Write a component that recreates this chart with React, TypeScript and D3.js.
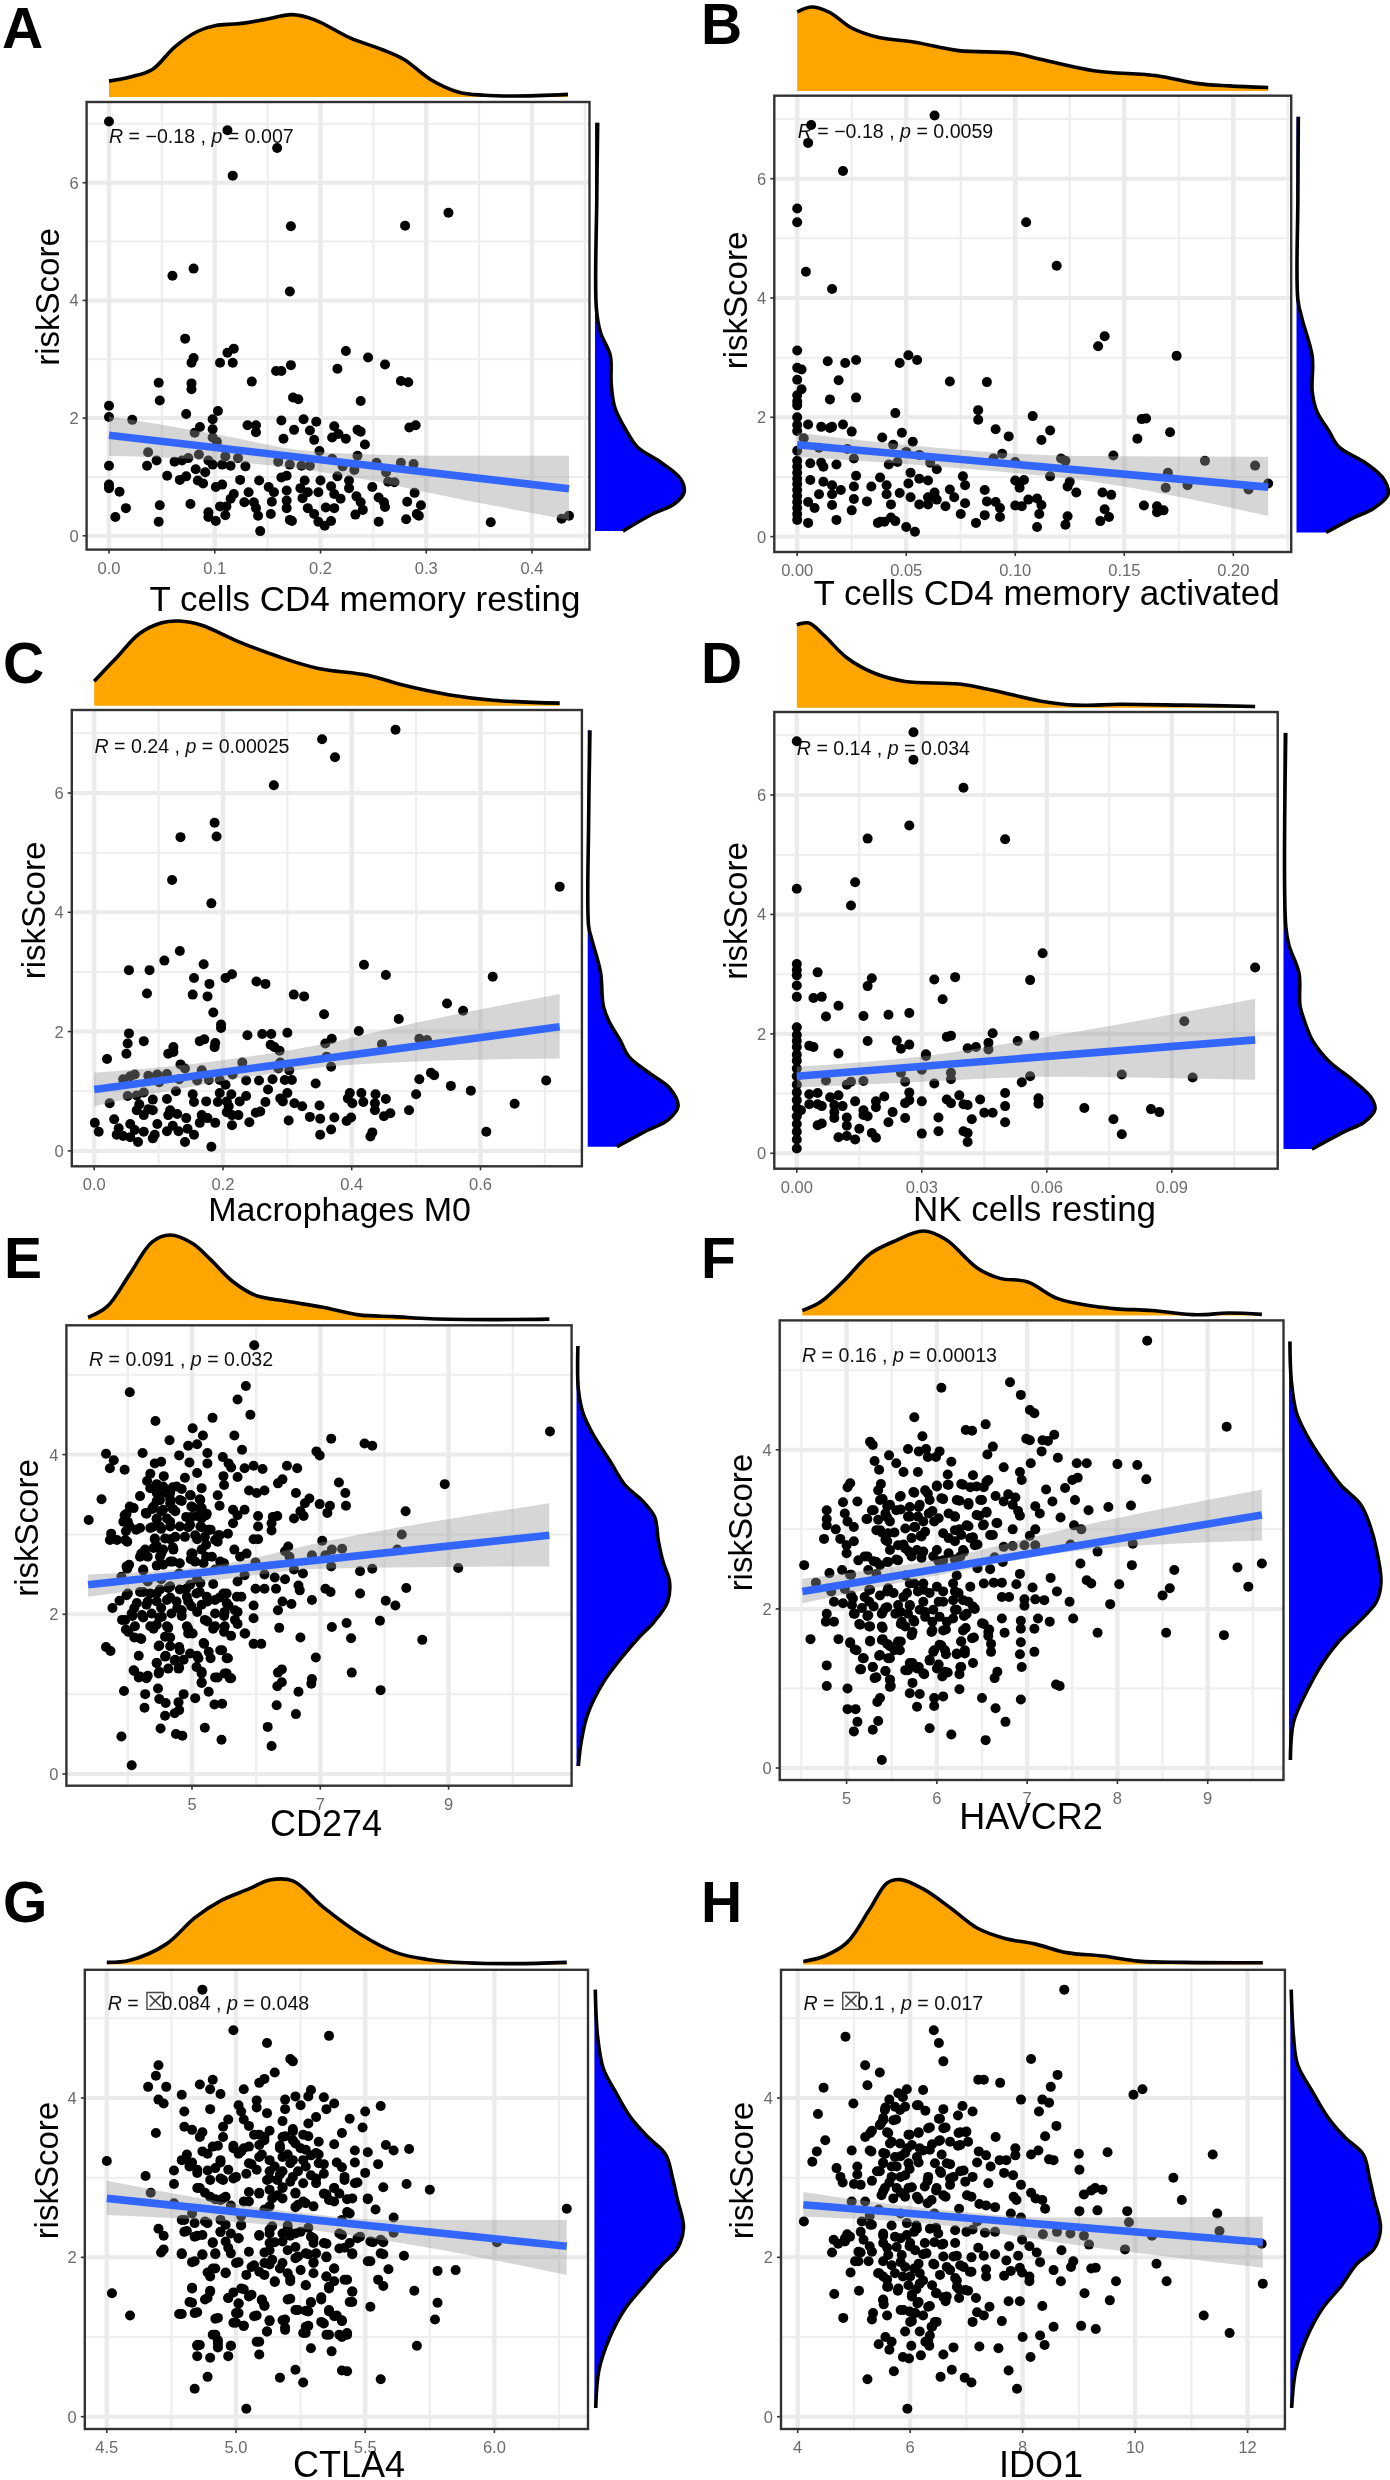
import React from "react";
import * as d3 from "d3";

type P = number[];

const aPoints: P[] = [[0,7.04],[.112,6.89],[.159,6.59],[.117,6.12],[.321,5.49],[.172,5.26],[.28,5.27],[.08,4.54],[.06,4.42],[.171,4.15],[.072,3.35],[.118,3.18],[.112,3.11],[.224,3.14],[.08,3.02],[.078,2.94],[.105,2.94],[.117,2.94],[.245,3.03],[.261,2.91],[.172,2.9],[.216,2.84],[.158,2.8],[.163,2.8],[.135,2.62],[.047,2.6],[.078,2.59],[.078,2.49],[.276,2.63],[.283,2.61],[.174,2.35],[.179,2.32],[.048,2.3],[.238,2.29],[0,2.21],[.103,2.12],[.073,2.07],[0,2.02],[.022,1.97],[.098,1.98],[.163,1.96],[.184,1.98],[.196,1.94],[.086,1.85],[.098,1.81],[.131,1.88],[.139,1.88],[.213,1.86],[.29,1.88],[.284,1.84],[.19,1.79],[.175,1.8],[.235,1.8],[.238,1.77],[.081,1.75],[.139,1.76],[.217,1.73],[.165,1.65],[.194,1.63],[.211,1.67],[.224,1.65],[.098,1.67],[.102,1.6],[.242,1.55],[.199,1.44],[.037,1.42],[.085,1.38],[.235,1.36],[.11,1.35],[0,1.19],[.036,1.19],[.045,1.28],[.062,1.26],[.069,1.28],[.075,1.32],[.094,1.28],[.098,1.21],[.107,1.21],[.115,1.19],[.122,1.32],[.129,1.18],[.16,1.26],[.171,1.21],[.182,1.19],[.19,1.19],[.211,1.31],[.221,1.18],[.232,1.12],[.253,1.24],[.262,1.08],[.276,1.24],[.288,1.22],[.055,1.02],[.067,.95],[.073,1.01],[.082,1.13],[.091,1.08],[.084,.94],[.089,.89],[.101,.83],[.107,.87],[.124,.95],[.142,.94],[.163,.99],[.168,1.02],[.151,.83],[.185,.94],[.2,.94],[.216,1.01],[.227,.94],[.249,.83],[.264,.92],[.27,.91],[.21,.84],[.227,.81],[0,.87],[0,.81],[.01,.75],[.118,.71],[.132,.74],[.156,.74],[.168,.77],[.181,.81],[.188,.74],[.198,.74],[.213,.71],[.234,.67],[.289,.73],[.255,.65],[.115,.63],[.137,.57],[.128,.57],[.154,.58],[.168,.6],[.183,.64],[.219,.63],[.238,.57],[.26,.57],[.282,.58],[.077,.54],[.048,.52],[.016,.47],[.111,.5],[.105,.5],[.139,.47],[.168,.47],[.188,.47],[.205,.48],[.213,.47],[.24,.44],[.261,.49],[.295,.52],[.094,.4],[.006,.32],[.094,.32],[.11,.35],[.141,.34],[.153,.37],[.194,.37],[.233,.36],[.291,.37],[.293,.34],[.101,.25],[.047,.24],[.171,.27],[.173,.25],[.198,.24],[.21,.25],[.204,.17],[.143,.08],[.255,.24],[.281,.28],[.361,.23],[.428,.29],[.435,.34]];

const bPoints: P[] = [[.063,7.06],[.0064,6.9],[.005,6.6],[.021,6.13],[0,5.5],[0,5.27],[.105,5.27],[.119,4.54],[.004,4.44],[.016,4.15],[.141,3.36],[.138,3.19],[0,3.12],[.174,3.03],[.051,3.04],[.055,2.96],[.047,2.91],[.027,2.96],[.022,2.91],[.014,2.94],[0,2.83],[.002,2.8],[.019,2.62],[0,2.63],[.07,2.6],[.087,2.59],[.002,2.47],[0,2.37],[.027,2.33],[.015,2.3],[0,2.27],[0,2.2],[.083,2.12],[.083,1.96],[.045,2.07],[.108,2.02],[0,2],[0,1.87],[0,1.77],[.158,1.97],[.16,1.98],[.005,1.88],[.011,1.84],[.015,1.82],[.016,1.84],[.021,1.88],[.025,1.76],[.048,1.74],[.091,1.8],[.097,1.68],[.116,1.78],[.171,1.75],[.039,1.66],[.053,1.59],[.112,1.62],[.156,1.64],[.003,1.65],[.044,1.54],[0,1.44],[.01,1.49],[.023,1.47],[.05,1.42],[.094,1.39],[.145,1.36],[.026,1.31],[.121,1.31],[.123,1.27],[.187,1.27],[.21,1.19],[0,1.27],[0,1.17],[0,1.07],[0,.97],[0,.88],[0,.78],[0,.68],[0,.58],[0,.48],[0,.38],[0,.28],[.006,1.23],[.011,1.24],[.012,1.17],[.018,1.21],[.042,1.21],[.046,1.25],[.056,1.37],[.061,1.24],[.064,1.13],[.09,1.31],[.1,1.25],[.052,1.07],[.027,1.02],[.076,1.01],[.056,.97],[.06,.94],[.038,.99],[.116,1.01],[.17,1.07],[.1,.94],[.104,.95],[.125,.92],[.006,.95],[.012,.92],[.016,.86],[.026,.84],[.034,.84],[.041,.86],[.051,.89],[.077,.86],[.102,.82],[.124,.84],[.169,.82],[.179,.86],[.216,.89],[.02,.78],[.01,.71],[.016,.71],[.041,.71],[.047,.73],[.063,.74],[.086,.78],[.07,.79],[.128,.74],[.14,.74],[.144,.7],[.207,.79],[.052,.66],[.06,.66],[.072,.66],[.026,.63],[.032,.59],[.064,.62],[.106,.62],[.087,.59],[.11,.64],[.077,.56],[.091,.58],[.043,.54],[.056,.54],[.068,.51],[.06,.54],[.016,.53],[.1,.52],[.103,.51],[.112,.53],[.159,.52],[.165,.51],[.168,.44],[.005,.58],[.008,.48],[.093,.48],[.025,.44],[.141,.46],[.075,.38],[.086,.36],[.111,.38],[.093,.33],[.124,.34],[.143,.33],[.165,.41],[.038,.25],[.043,.32],[.04,.25],[.045,.26],[.018,.28],[.005,.23],[.037,.23],[.139,.26],[.082,.23],[.123,.2],[.05,.16],[.11,.16],[.054,.08]];

const cPoints: P[] = [[.468,7.06],[.354,6.9],[.374,6.6],[.279,6.13],[.187,5.5],[.19,5.27],[.134,5.26],[.723,4.43],[.121,4.54],[.182,4.15],[.133,3.35],[.109,3.19],[.17,3.13],[.419,3.12],[.054,3.03],[.086,3.03],[.453,2.95],[.619,2.92],[.155,2.9],[.204,2.9],[.214,2.96],[.179,2.8],[.252,2.84],[.266,2.8],[.082,2.64],[.153,2.62],[.176,2.59],[.31,2.62],[.326,2.59],[.548,2.47],[.573,2.35],[.185,2.32],[.357,2.29],[.473,2.21],[.197,2.12],[.197,2.06],[.411,2.01],[.054,1.97],[.261,1.96],[.275,1.96],[.3,1.98],[.238,1.94],[.077,1.84],[.164,1.84],[.171,1.87],[.188,1.81],[.187,1.74],[.052,1.8],[.369,1.88],[.359,1.8],[.274,1.78],[.28,1.74],[.288,1.68],[.447,1.79],[.505,1.88],[.517,1.86],[.123,1.74],[.123,1.66],[.115,1.63],[.05,1.63],[.02,1.54],[.134,1.45],[.23,1.48],[.361,1.58],[.368,1.41],[.289,1.48],[.303,1.35],[.286,1.38],[.141,1.38],[.167,1.35],[.063,1.28],[.045,1.2],[.056,1.25],[.084,1.26],[.098,1.28],[.113,1.29],[.101,1.15],[.132,1.2],[.16,1.18],[.178,1.19],[.195,1.19],[.204,1.11],[.236,1.18],[.215,1.28],[.256,1.18],[.277,1.2],[.296,1.19],[.307,1.19],[.344,1.13],[.505,1.2],[.523,1.31],[.528,1.27],[.554,1.09],[.702,1.18],[.27,1.03],[.127,1],[.585,1.01],[.397,.97],[.415,.97],[.437,.95],[.5,.95],[.052,.92],[.066,.93],[.077,.98],[.153,.95],[.195,.97],[.213,.95],[.236,.92],[.3,.97],[.289,.88],[.293,.83],[.394,.88],[.453,.87],[.091,.86],[.113,.87],[.155,.82],[.174,.83],[.192,.82],[.206,.83],[.226,.83],[.266,.82],[.024,.8],[.401,.8],[.418,.82],[.436,.8],[.311,.8],[.323,.75],[.35,.76],[.653,.79],[.07,.78],[.066,.68],[.084,.7],[.091,.68],[.118,.68],[.209,.75],[.206,.65],[.258,.66],[.251,.64],[.214,.6],[.224,.6],[.436,.68],[.46,.63],[.45,.58],[.489,.68],[.077,.6],[.115,.6],[.129,.62],[.143,.55],[.167,.6],[.176,.55],[.335,.57],[.373,.56],[.399,.56],[.351,.54],[.392,.5],[.302,.51],[.031,.53],[.241,.48],[.164,.47],[.188,.47],[.001,.47],[.056,.45],[.098,.45],[.214,.43],[.122,.42],[.007,.32],[.038,.38],[.063,.35],[.077,.32],[.113,.33],[.131,.33],[.145,.37],[.368,.36],[.035,.27],[.045,.25],[.056,.23],[.094,.27],[.091,.21],[.155,.27],[.068,.15],[.141,.15],[.351,.27],[.432,.31],[.429,.24],[.609,.32],[.182,.07]];

const dPoints: P[] = [[.028,7.05],[0,6.9],[.028,6.59],[.04,6.12],[.027,5.49],[.017,5.27],[.05,5.26],[0,4.43],[.014,4.54],[.013,4.15],[.059,3.35],[.11,3.11],[0,3.17],[0,3.07],[0,2.98],[0,2.81],[0,2.62],[.005,3.03],[.018,2.93],[.017,2.8],[.038,2.95],[.033,2.91],[.056,2.9],[.004,2.6],[.006,2.62],[.035,2.58],[.01,2.47],[.007,2.29],[.016,2.3],[.022,2.32],[.027,2.35],[0,2.11],[0,1.98],[0,1.88],[0,1.78],[.093,2.21],[.047,2.01],[.037,1.97],[.036,1.95],[.057,1.97],[.017,1.88],[.024,1.89],[.027,1.82],[.025,1.75],[.003,1.8],[.004,1.78],[.046,1.85],[.046,1.74],[.053,1.88],[.041,1.76],[.043,1.78],[.01,1.67],[.031,1.66],[.031,1.63],[0,1.65],[0,1.55],[0,1.42],[0,1.29],[0,1.15],[0,1.02],[0,.89],[0,.76],[0,.62],[0,.49],[0,.36],[0,.23],[0,.08],[.078,1.32],[.095,1.27],[.056,1.29],[.037,1.35],[.025,1.35],[.03,1.4],[.037,1.24],[.007,1.22],[.012,1.15],[.013,1.2],[.016,1.21],[.026,1.2],[.033,1.17],[.054,1.19],[.027,1.02],[.05,1.01],[.003,.99],[.005,1.01],[.008,.94],[.01,.97],[.021,.95],[.039,.97],[.058,.92],[.026,.84],[.027,.89],[.03,.87],[.036,.9],[.037,.84],[.044,.9],[.058,.83],[.014,.87],[.019,.87],[.003,.82],[.005,.82],[.006,.79],[.009,.81],[.011,.79],[.019,.77],[.04,.82],[.041,.81],[.05,.79],[.069,.76],[.085,.74],[.087,.69],[.001,.72],[.016,.72],[.023,.69],[.045,.68],[.047,.68],[.009,.69],[.016,.64],[.017,.62],[.012,.6],[.026,.59],[.034,.6],[.042,.57],[.076,.57],[.009,.59],[.022,.52],[.05,.52],[.006,.5],[.005,.47],[.012,.46],[.015,.41],[.034,.37],[.04,.37],[.041,.34],[.03,.33],[.018,.34],[.078,.32],[.019,.26],[.01,.27],[.012,.29],[.014,.23],[.041,.19]];

const ePoints: P[] = [[5.97,5.37],[5.84,4.86],[4.03,4.78],[5.71,4.69],[5.91,4.5],[5.32,4.46],[4.43,4.42],[10.58,4.29],[5.01,4.33],[5.17,4.24],[5.66,4.24],[7.17,4.2],[4.65,4.18],[7.69,4.14],[7.81,4.11],[4.94,4.11],[5.08,4.13],[5.78,4.06],[6.94,4.04],[6.99,3.99],[3.66,4.01],[4.23,4.02],[5.24,4.02],[4.8,3.99],[3.78,3.93],[4.42,3.89],[4.52,3.91],[5.48,3.97],[5.24,3.89],[4.96,3.9],[3.72,3.83],[3.95,3.81],[5.57,3.89],[6.48,3.86],[6.64,3.83],[5.96,3.86],[6.1,3.82],[5.82,3.83],[5.61,3.84],[4.35,3.76],[5.08,3.77],[5.49,3.73],[5.71,3.72],[4.56,3.73],[4.89,3.71],[4.3,3.67],[6.41,3.69],[6.34,3.64],[7.29,3.65],[8.94,3.63],[5.5,3.62],[4.45,3.63],[4.7,3.59],[5.15,3.58],[4.84,3.57],[5.89,3.55],[6.01,3.52],[6.13,3.55],[6.62,3.52],[7.39,3.52],[6.83,3.45],[4.19,3.48],[3.59,3.44],[4.59,3.52],[4.98,3.49],[5.4,3.49],[5.12,3.44],[4.45,3.42],[4.66,3.44],[4.84,3.42],[6.76,3.39],[6.99,3.38],[7.15,3.36],[7.4,3.36],[4.03,3.35],[5.43,3.36],[4.38,3.32],[4.52,3.29],[4.7,3.32],[5.01,3.34],[5.15,3.33],[5.64,3.31],[5.82,3.31],[8.33,3.29],[6.69,3.29],[7.11,3.27],[3.95,3.24],[4.28,3.27],[4.91,3.22],[5.08,3.23],[5.22,3.24],[5.71,3.24],[6.03,3.23],[6.26,3.22],[6.33,3.23],[6.59,3.2],[6.74,3.23],[3.39,3.18],[4,3.16],[4.45,3.19],[4.66,3.16],[5.64,3.14],[6.24,3.14],[6.03,3.1],[4.13,3.06],[4.38,3.09],[4.52,3.07],[4.94,3.09],[5.15,3.09],[5.29,3.06],[6.24,3.05],[3.97,3.04],[8.27,3],[3.74,3.01],[5.43,2.99],[5.56,3.01],[3.72,2.93],[3.83,2.93],[3.99,2.91],[4.42,2.94],[4.66,2.94],[5.08,2.94],[5.96,2.94],[6.03,2.94],[7.03,2.92],[5.4,2.91],[4.45,2.86],[4.7,2.84],[5.22,2.87],[6.5,2.85],[5.66,2.81],[7.18,2.81],[7.34,2.82],[6.45,2.79],[4.21,2.76],[5.01,2.76],[4.52,2.76],[5.85,2.76],[4.31,2.72],[5.75,2.72],[6.52,2.72],[6.87,2.74],[7.08,2.74],[8.2,2.81],[4.98,2.69],[5.22,2.72],[4.7,2.66],[5.99,2.65],[4.02,2.62],[4.45,2.61],[5.5,2.64],[7.17,2.6],[9.15,2.58],[7.81,2.57],[7.62,2.54],[6.59,2.56],[6.73,2.51],[3.99,2.57],[4.24,2.55],[5.36,2.56],[4.8,2.51],[6.13,2.5],[5.82,2.49],[6.29,2.46],[6.45,2.44],[5.71,2.41],[3.9,2.47],[5.08,2.44],[4.52,2.44],[5.33,2.38],[4.31,2.41],[8.34,2.33],[6.66,2.36],[5.99,2.32],[6.13,2.32],[6.31,2.32],[7.08,2.32],[7.16,2.28],[6.68,2.3],[4.63,2.33],[4.91,2.32],[4.24,2.28],[4,2.26],[4.45,2.26],[5.12,2.28],[5.54,2.26],[7.62,2.26],[5.77,2.22],[4.66,2.21],[5.43,2.21],[3.87,2.17],[6.87,2.18],[8.02,2.17],[4.94,2.16],[5.24,2.16],[6.41,2.16],[6.55,2.13],[8.17,2.11],[4.31,2.16],[3.76,2.08],[5.96,2.11],[5.57,2.11],[4.1,2.08],[4.52,2.08],[4.77,2.08],[6.34,2.05],[5.08,2.03],[5.71,2.03],[4.07,1.98],[3.91,1.93],[4.24,1.96],[4.49,1.96],[4.84,1.98],[5.96,1.95],[5.5,1.98],[7.93,1.92],[7.41,1.89],[5.24,1.91],[5.71,1.88],[6.36,1.83],[7.18,1.84],[3.97,1.81],[4.35,1.85],[4.63,1.83],[4.94,1.82],[5.33,1.82],[4.1,1.71],[4.21,1.69],[5.5,1.78],[5.82,1.76],[6.69,1.71],[7.48,1.7],[8.59,1.68],[5.61,1.73],[4.66,1.71],[5.01,1.76],[5.96,1.63],[6.08,1.63],[4.49,1.61],[4.8,1.59],[5.19,1.63],[3.66,1.59],[3.73,1.54],[5.47,1.55],[4.59,1.48],[4.17,1.48],[5.08,1.48],[5.29,1.45],[5.56,1.45],[6.93,1.46],[4.87,1.43],[4.73,1.42],[4.45,1.39],[6.4,1.31],[6.34,1.27],[4.49,1.28],[4.8,1.33],[4.1,1.29],[5.15,1.28],[7.49,1.27],[5.54,1.26],[5.61,1.2],[5.4,1.21],[6.87,1.19],[4.17,1.21],[4.31,1.23],[5.15,1.15],[6.4,1.15],[6.33,1.1],[6.86,1.13],[4.47,1.07],[3.94,1.04],[5.26,1.03],[6.66,1.03],[7.94,1.05],[4.87,1],[4.27,1],[4.49,.94],[5.05,.95],[4.59,.89],[4.79,.9],[5.35,.87],[5.47,.88],[6.32,.86],[4.26,.83],[4.8,.8],[4.73,.76],[4.58,.73],[6.62,.75],[6.18,.59],[5.2,.58],[4.51,.57],[4.75,.5],[4.85,.48],[3.9,.47],[5.46,.43],[6.24,.35],[4.06,.11]];
const eCluster: P[] = [[4.55,3.6],[4.66,3.52],[4.76,3.6],[4.45,3.52],[4.35,3.58],[4.5,3.43],[4.66,3.39],[4.81,3.43],[4.97,3.49],[5.13,3.43],[4.4,3.35],[4.55,3.31],[4.74,3.29],[4.99,3.35],[5.13,3.33],[5.23,3.26],[4.29,3.26],[4.45,3.2],[4.61,3.2],[4.99,3.22],[5.15,3.2],[3.98,3.26],[4.09,3.33],[3.93,3.16],[4.03,3.1],[4.19,3.08],[4.35,3.08],[4.5,3.1],[4.66,3.1],[4.81,3.1],[4.97,3.12],[5.13,3.1],[5.26,3.06],[5.41,2.99],[3.96,2.93],[4.42,2.95],[4.58,2.95],[4.74,2.97],[4.89,2.97],[5.05,2.99],[5.2,2.97],[5.36,2.93],[4.27,2.81],[4.19,2.72],[4.4,2.83],[4.55,2.81],[4.71,2.81],[4.99,2.76],[5.15,2.81],[5.31,2.72],[5.05,2.66],[4.5,2.72],[4.66,2.66],[4.81,2.64],[5.18,2.64],[5.44,2.66],[3.98,2.6],[4.24,2.56],[4.55,2.62],[4.19,2.28],[4.35,2.26],[4.5,2.31],[4.66,2.35],[4.81,2.31],[4.97,2.37],[5.13,2.39],[3.98,2.24],[4.14,2.14],[4.29,2.12],[4.45,2.16],[4.61,2.18],[4.76,2.16],[4.92,2.22],[5.07,2.26],[5.23,2.22],[5.49,2.26],[4.06,2.01],[4.22,1.99],[4.37,2.01],[4.53,1.97],[4.68,2.01],[4.84,2.05],[4.99,2.1],[5.15,2.12],[5.36,2.18],[5.54,2.14],[5.7,2.22],[3.96,1.93],[4.11,1.85],[4.45,1.87],[4.61,1.85],[4.92,1.85],[5.2,1.93],[5.36,2.01],[5.51,2.03],[5.67,2.05],[4.01,1.78],[4.19,1.7],[4.4,1.82],[4.58,1.72],[4.94,1.76],[5.36,1.85],[5.51,1.85],[5.67,1.93],[5.83,1.76],[4.48,1.6],[4.66,1.6],[4.81,1.55],[4.97,1.51],[5.18,1.64],[5.26,1.53],[5.1,1.45],[5.44,1.55],[5.54,1.45],[4.58,1.47],[4.74,1.43],[4.45,1.39],[4.63,1.32],[4.79,1.32],[4.48,1.26],[5.07,1.34],[5.15,1.26],[4.09,1.3],[4.19,1.22],[4.29,1.2],[5.15,1.14],[5.36,1.21],[5.51,1.26],[5.59,1.2]];

const fPoints: P[] = [[8.33,5.37],[6.05,4.78],[6.81,4.85],[6.93,4.69],[5.75,4.41],[7.03,4.5],[7.08,4.46],[9.21,4.29],[6.54,4.32],[6.32,4.25],[6.39,4.24],[7.3,4.19],[5.84,4.17],[6.99,4.14],[7.03,4.12],[7.17,4.12],[7.23,4.11],[5.26,4.1],[5.29,4.06],[6.62,4.04],[5.68,4.01],[5.88,4.01],[5.8,3.98],[6.03,3.98],[7.16,3.98],[6.56,3.94],[5.47,3.93],[5.9,3.91],[5.99,3.91],[7.34,3.9],[5.31,3.86],[5.55,3.83],[6.16,3.85],[7.04,3.83],[7.55,3.83],[7.66,3.83],[8,3.82],[8.22,3.81],[6.74,3.78],[5.36,3.75],[5.63,3.72],[5.79,3.72],[6.92,3.72],[6.12,3.69],[6.4,3.68],[6.94,3.62],[8.32,3.63],[7.56,3.65],[7.5,3.62],[6.57,3.62],[5.04,3.58],[5.38,3.57],[5.01,3.53],[6,3.55],[6.12,3.56],[6.27,3.57],[6.37,3.53],[6.52,3.53],[7.42,3.52],[5.35,3.49],[5.75,3.46],[5.9,3.45],[7.21,3.5],[5.6,3.42],[6.65,3.42],[6.79,3.44],[6.87,3.4],[4.96,3.34],[5.12,3.35],[5.4,3.38],[6.07,3.38],[6.25,3.36],[6.5,3.37],[7.53,3.37],[7.28,3.35],[6.35,3.31],[6.74,3.35],[6.84,3.31],[7.9,3.28],[8.15,3.3],[5.45,3.29],[5.8,3.28],[7.09,3.29],[4.78,3.24],[5.28,3.24],[5.6,3.25],[5.95,3.23],[7.68,3.24],[6.55,3.21],[6.9,3.23],[4.98,3.2],[7.14,3.2],[5.23,3.13],[5.45,3.15],[5.7,3.16],[6.2,3.16],[6.47,3.17],[6.92,3.17],[7.37,3.15],[4.78,3.13],[5.01,3.1],[5.85,3.1],[5.97,3.1],[6.67,3.08],[4.78,3.05],[6.52,3.06],[7.52,3.05],[5.08,3.03],[5.33,2.99],[5.75,3.03],[6.25,3],[6.35,3.04],[6.84,3],[7.09,3],[7.6,3],[4.88,3],[5.53,2.96],[5.39,2.96],[6.62,2.93],[5.82,2.92],[7.03,2.92],[4.75,2.88],[4.93,2.88],[6.4,2.9],[5.08,2.85],[5.45,2.85],[6.2,2.85],[5,2.8],[5.63,2.81],[6.45,2.81],[6.74,2.78],[6.84,2.79],[6.97,2.8],[7.09,2.8],[7.48,2.81],[8.17,2.82],[5,2.7],[5.69,2.72],[5.85,2.72],[6.3,2.72],[7.78,2.72],[5.23,2.66],[5.13,2.61],[6.64,2.65],[5.55,2.62],[5.3,2.6],[5.45,2.59],[6.02,2.6],[6.2,2.62],[6.73,2.59],[7.59,2.57],[8.16,2.55],[4.53,2.55],[9.6,2.57],[9.33,2.52],[6.45,2.51],[6.59,2.5],[8.63,2.49],[4.95,2.49],[4.81,2.45],[5.05,2.43],[6.92,2.44],[5.33,2.44],[5.65,2.42],[6.22,2.42],[7.26,2.39],[7.66,2.36],[7.71,2.32],[4.66,2.33],[5.75,2.32],[6.52,2.32],[6.63,2.33],[6.72,2.33],[6.88,2.31],[8.02,2.31],[9.45,2.28],[4.98,2.25],[5.25,2.24],[6.37,2.28],[7.06,2.27],[8.58,2.26],[7.33,2.22],[4.83,2.22],[5.45,2.22],[5.85,2.24],[6.2,2.22],[8.5,2.17],[6.72,2.15],[6.8,2.15],[5.05,2.17],[5.63,2.15],[6.97,2.12],[7.09,2.12],[7.19,2.11],[7.47,2.09],[4.86,2.09],[5.25,2.09],[6.07,2.09],[6.35,2.09],[7.92,2.06],[6.97,2.04],[4.96,2.07],[5.45,2.02],[5.7,2.04],[6.42,2],[6.2,1.99],[4.78,1.94],[5.08,1.94],[5.23,1.91],[5.4,1.96],[5.6,1.96],[5.87,1.96],[6.3,1.91],[7.51,1.88],[6.72,1.88],[7.12,1.88],[6.93,1.85],[4.77,1.84],[4.86,1.84],[5.14,1.81],[5.75,1.84],[5.6,1.81],[5.95,1.84],[6.11,1.84],[7.25,1.84],[6.52,1.81],[6.93,1.75],[5.25,1.78],[5.4,1.76],[6.32,1.76],[7.08,1.75],[5.95,1.73],[6.1,1.74],[6.58,1.74],[5.73,1.71],[7.78,1.7],[8.54,1.7],[9.18,1.67],[6.75,1.7],[6.57,1.66],[4.6,1.62],[4.91,1.62],[5.4,1.62],[6.41,1.64],[5.26,1.6],[5.04,1.58],[5.6,1.59],[6.93,1.58],[5.45,1.56],[6.27,1.59],[6.6,1.56],[6.05,1.54],[5.09,1.49],[5.53,1.48],[5.97,1.48],[6.6,1.46],[7.08,1.46],[6.22,1.43],[6.92,1.43],[6.31,1.44],[5.18,1.38],[5.36,1.41],[5.48,1.38],[6.1,1.43],[5.92,1.35],[6.4,1.32],[5.73,1.32],[4.78,1.29],[6.02,1.3],[5.8,1.27],[5.29,1.27],[5.16,1.24],[6.27,1.27],[6.94,1.27],[5.68,1.23],[5.43,1.22],[5.86,1.18],[6.12,1.2],[6.67,1.21],[6.25,1.18],[5.33,1.14],[6.06,1.15],[6.64,1.13],[5.48,1.11],[4.78,1.03],[5.49,1.03],[5.73,1.07],[7.32,1.05],[7.36,1.03],[5.01,1],[6.25,.99],[5.7,.94],[5.81,.93],[6.07,.9],[5.97,.88],[6.5,.88],[6.93,.86],[5.37,.88],[5.34,.83],[5.78,.77],[5.97,.78],[6.65,.75],[5.01,.74],[5.1,.74],[5.12,.58],[5.35,.59],[6.76,.58],[5.92,.5],[5.08,.46],[5.29,.48],[6.16,.42],[6.54,.35],[5.39,.1]];
const fCluster: P[] = [[5.37,3.37],[5.48,3.31],[5.59,3.41],[5.74,3.47],[5.87,3.49],[6,3.54],[6.13,3.56],[6.29,3.56],[6.44,3.54],[6.55,3.6],[5.3,3.24],[5.43,3.2],[5.55,3.24],[5.7,3.28],[5.81,3.31],[5.92,3.37],[6.05,3.39],[6.22,3.37],[6.35,3.33],[6.48,3.37],[5.22,3.13],[5.35,3.12],[5.48,3.1],[5.68,3.16],[5.79,3.16],[5.91,3.2],[6.02,3.14],[6.13,3.2],[6.2,3.16],[6.44,3.18],[6.55,3.22],[5.37,2.99],[5.46,2.95],[5.65,3.01],[5.76,3.03],[5.87,2.97],[6.07,2.95],[6.2,2.99],[6.33,3.05],[6.51,3.05],[6.66,3.08],[5.43,2.87],[5.57,2.8],[5.72,2.89],[5.83,2.91],[6.13,2.89],[6.27,2.93],[6.37,2.89],[6.59,2.93],[5.48,2.74],[5.65,2.76],[5.78,2.74],[6,2.74],[6.13,2.7],[6.29,2.74],[6.42,2.8],[5.2,2.66],[5.33,2.59],[5.46,2.59],[5.57,2.61],[5.72,2.66],[5.83,2.64],[5.96,2.66],[6.07,2.61],[6.26,2.66],[5.24,2.49],[5.37,2.55],[5.04,2.43],[5.26,2.24],[5.46,2.26],[5.7,2.32],[5.85,2.32],[6,2.28],[6.18,2.32],[5.07,2.13],[5.2,2.15],[5.37,2.17],[5.52,2.2],[5.67,2.2],[5.79,2.22],[5.92,2.2],[6.07,2.22],[6.24,2.2],[5.06,2.05],[5.17,2.01],[5.3,2.03],[5.43,2.01],[5.57,2.05],[5.7,2.05],[5.85,2.09],[6.02,2.09],[6.18,2.11],[6.29,2.11],[5.09,1.94],[5.24,1.92],[5.39,1.94],[5.54,1.94],[5.68,1.94],[5.81,1.99],[5.96,1.99],[6.22,1.99],[6.4,2.03],[6.33,1.94],[5.15,1.8],[5.26,1.78],[5.39,1.78],[5.61,1.84],[5.74,1.86],[5.87,1.9],[6.03,1.9],[6.18,1.88],[5.65,1.78],[5.72,1.67],[5.94,1.71],[6.07,1.73],[6.29,1.73],[6.5,1.82],[6.57,1.71],[5.57,1.59],[5.48,1.53],[5.39,1.61],[5.04,1.57],[5.11,1.48],[5.26,1.59],[5.59,1.48],[5.37,1.42],[5.19,1.38],[5.46,1.38],[6.03,1.55],[6.27,1.59],[6.09,1.48],[5.96,1.46],[6.22,1.44],[5.92,1.36],[6,1.25],[6.31,1.48],[6.39,1.63],[5.7,1.32],[5.78,1.25],[5.65,1.23],[5.85,1.19],[6.09,1.21],[6.26,1.27],[5.29,1.27],[5.43,1.22],[5.15,1.24],[5.31,1.13],[5.48,1.11],[5.48,1.02]];

const gPoints: P[] = [[4.87,5.36],[4.99,4.85],[5.36,4.78],[5.12,4.69],[5.21,4.49],[5.22,4.46],[4.7,4.41],[5.15,4.32],[4.69,4.28],[4.91,4.23],[5.11,4.24],[5.09,4.19],[4.86,4.17],[4.66,4.14],[4.73,4.14],[4.9,4.11],[5.03,4.11],[4.94,4.05],[5.29,4.1],[4.79,4.04],[5.23,4.02],[5.28,4.02],[5.34,4.01],[4.7,3.98],[4.72,3.93],[5.08,3.97],[5.19,3.98],[5.38,3.93],[5.01,3.91],[5.56,3.9],[5.25,3.91],[5.19,3.86],[5.08,3.88],[4.9,3.86],[4.8,3.83],[5.02,3.83],[5.12,3.81],[5.35,3.86],[5.5,3.83],[5.31,3.76],[5.44,3.74],[5.03,3.73],[4.97,3.73],[5.18,3.71],[5.28,3.68],[4.95,3.64],[4.8,3.64],[5.05,3.65],[5.49,3.63],[5.22,3.61],[4.83,3.6],[4.87,3.57],[4.69,3.56],[5.13,3.59],[5.41,3.56],[5.09,3.54],[5.19,3.52],[5.28,3.52],[4.86,3.51],[4.95,3.51],[5.22,3.47],[5.11,3.47],[5.32,3.45],[5.38,3.42],[5.58,3.41],[5.61,3.34],[5.67,3.36],[4.93,3.4],[4.99,3.4],[5.03,3.37],[5.17,3.4],[5.25,3.37],[5.46,3.34],[5.51,3.32],[5.01,3.3],[4.89,3.3],[4.81,3.29],[5.1,3.29],[5.2,3.29],[5.29,3.28],[4.5,3.21],[5.32,3.29],[4.79,3.22],[4.83,3.19],[4.94,3.19],[5.22,3.22],[5.39,3.19],[5.46,3.19],[5.55,3.17],[4.82,3.14],[5.06,3.17],[5.15,3.14],[5.27,3.14],[5.34,3.17],[5.41,3.13],[4.76,3.09],[4.85,3.06],[4.89,3.09],[5.04,3.05],[5.5,3.06],[5.17,3.04],[4.65,3.02],[5,3.01],[5.42,3.01],[5.13,2.99],[5.22,3.01],[5.31,2.99],[5.47,2.94],[5.66,2.92],[4.76,2.92],[4.94,2.99],[5.57,2.88],[4.85,2.87],[5.18,2.88],[5.38,2.87],[5.75,2.85],[5.09,2.81],[4.67,2.81],[5.23,2.81],[4.88,2.81],[5.35,2.79],[5.16,2.78],[5.43,2.73],[5.51,2.73],[4.95,2.74],[4.92,2.73],[5.03,2.7],[5.38,2.7],[5.27,2.68],[4.76,2.68],[5.23,2.63],[4.98,2.65],[5.54,2.6],[6.28,2.61],[5.11,2.6],[5.44,2.55],[5.61,2.5],[4.83,2.55],[4.8,2.47],[5.02,2.52],[4.88,2.45],[4.94,2.47],[5.02,2.4],[5.41,2.47],[4.7,2.36],[5.2,2.4],[5.28,2.37],[4.81,2.33],[5.61,2.31],[4.94,2.32],[5.13,2.35],[4.72,2.27],[4.85,2.27],[5.09,2.27],[5.21,2.27],[5.41,2.28],[5.01,2.24],[5.3,2.24],[5.48,2.26],[5.57,2.19],[4.91,2.19],[5.53,2.19],[6.01,2.19],[5.15,2.19],[5.35,2.17],[5.42,2.12],[4.72,2.1],[4.71,2.06],[4.97,2.12],[4.87,2.04],[4.79,2.04],[5.2,2.09],[5.57,2.04],[5.45,2.04],[5.65,2.02],[5.11,2.06],[5.28,2.04],[4.92,2.04],[5.35,2],[5.52,1.95],[4.83,1.94],[5.01,1.94],[5.23,1.99],[5.13,1.91],[5.3,1.94],[5.06,1.88],[4.92,1.86],[5.17,1.86],[5.59,1.85],[5.38,1.86],[5.78,1.83],[5.85,1.84],[4.89,1.81],[4.96,1.81],[5.11,1.78],[5.35,1.76],[5.21,1.73],[5.55,1.72],[5.43,1.72],[5.15,1.69],[5.27,1.65],[5.36,1.63],[5.57,1.64],[4.83,1.61],[4.52,1.55],[5.69,1.58],[5.45,1.57],[4.9,1.58],[5.03,1.6],[4.99,1.56],[5.06,1.53],[4.89,1.49],[4.97,1.49],[5.33,1.5],[5.21,1.48],[5.1,1.46],[5.45,1.44],[4.83,1.43],[5.78,1.43],[5.29,1.43],[5.01,1.42],[5.52,1.38],[5.11,1.39],[5.24,1.34],[5.36,1.32],[5.28,1.32],[4.85,1.31],[4.79,1.29],[4.59,1.27],[5.01,1.3],[5.08,1.27],[5.39,1.27],[4.93,1.24],[5.77,1.22],[5.13,1.2],[5.19,1.22],[5.41,1.2],[5,1.18],[5.34,1.17],[5.03,1.14],[5.19,1.12],[5.28,1.14],[5.12,1.07],[5.27,1.05],[5.36,1.03],[4.92,1.03],[5.43,1.03],[5.41,1],[4.93,.96],[5.09,.94],[5.09,.78],[4.85,.89],[4.86,.9],[4.93,.87],[4.98,.89],[5.29,.86],[5.7,.89],[5.37,.82],[4.85,.76],[4.9,.74],[4.97,.76],[5.41,.58],[5.43,.57],[5.23,.59],[4.89,.5],[5.17,.49],[5.56,.47],[5.26,.43],[4.84,.35],[5.04,.1]];
const gCluster: P[] = [[5.07,3.54],[5.11,3.51],[5.18,3.51],[5.22,3.58],[5.26,3.54],[4.91,3.39],[4.99,3.37],[5.02,3.33],[5.05,3.39],[5.09,3.41],[5.17,3.37],[5.23,3.43],[5.27,3.35],[5.31,3.31],[4.94,3.22],[5.05,3.18],[5.09,3.26],[5.13,3.22],[5.18,3.26],[5.21,3.18],[5.26,3.22],[5.32,3.18],[4.82,3.18],[4.87,3.33],[4.85,3.1],[4.92,3.12],[4.97,3.1],[5.08,3.1],[5.13,3.08],[5.18,3.08],[5.24,3.08],[5.29,3.03],[5.34,3.05],[4.9,2.97],[4.95,2.97],[4.99,2.99],[5.12,2.97],[5.16,2.97],[5.21,2.95],[5.26,2.93],[5.31,2.93],[4.86,2.87],[5.05,2.82],[5.09,2.8],[5.13,2.85],[5.18,2.87],[5.23,2.8],[5.34,2.8],[5.38,2.87],[5.42,2.97],[5.46,2.93],[4.9,2.76],[4.96,2.76],[5.05,2.7],[5.14,2.74],[5.18,2.74],[5.24,2.66],[5.3,2.64],[5.36,2.72],[5.4,2.8],[5.45,2.74],[5.51,2.74],[5.13,2.64],[4.94,2.72],[5.43,2.57],[5.26,2.7],[4.79,2.47],[4.84,2.43],[4.89,2.43],[4.96,2.41],[5.02,2.41],[5.14,2.39],[5.2,2.36],[5.25,2.32],[4.8,2.32],[4.94,2.32],[4.98,2.3],[5.09,2.28],[5.13,2.3],[5.18,2.3],[5.23,2.3],[5.29,2.26],[5.4,2.3],[5.47,2.24],[5.52,2.2],[4.84,2.26],[4.87,2.28],[4.91,2.18],[5.01,2.24],[4.96,2.2],[5.13,2.18],[5.18,2.2],[5.3,2.18],[5.34,2.18],[5.44,2.18],[5.56,2.22],[4.92,2.05],[4.98,2.05],[5.05,2.07],[5.13,2.09],[5.23,2.13],[5.27,2.05],[5.31,2.05],[5.4,2.11],[5.45,2.05],[5.56,2.05],[5.35,2.01],[5,1.93],[5.07,1.9],[5.11,1.93],[5.14,1.97],[5.18,1.93],[5.24,2.01],[5.3,1.93],[4.87,2.03],[4.84,1.95],[4.79,2.05],[4.91,1.86],[4.96,1.8],[5.04,1.78],[5.09,1.82],[5.2,1.8],[5.25,1.84],[5.3,1.8],[5.38,1.86],[5.51,1.95],[4.9,1.76],[5.15,1.7],[5.21,1.7],[5.27,1.65],[5.35,1.76],[5.38,1.7],[5.36,1.61],[5.42,1.72],[4.83,1.62],[4.9,1.57],[4.88,1.47],[5.02,1.61],[4.97,1.49],[5.05,1.51],[5.1,1.47],[5.01,1.42],[5.11,1.4],[5.2,1.47],[5.29,1.44],[5.33,1.47],[5.45,1.57],[5.44,1.44],[4.82,1.44],[4.78,1.29],[4.84,1.3],[4.92,1.23],[5,1.3],[5.07,1.26],[4.99,1.18],[5.03,1.14],[5.13,1.21],[5.18,1.21],[5.23,1.34],[5.27,1.33],[5.36,1.34],[5.38,1.26],[5.41,1.21],[5.33,1.19],[5.19,1.09],[5.27,1.13],[5.26,1.05],[5.12,1.07],[5.35,1.03],[5.4,1.03],[5.43,1.05],[4.91,1.03],[4.93,.92],[4.85,.9],[4.98,.89],[5.08,.94]];

const hPoints: P[] = [[8.74,5.36],[6.42,4.85],[4.85,4.77],[6.51,4.69],[6.59,4.46],[8.15,4.49],[5.2,4.41],[5.46,4.32],[8.62,4.29],[7.21,4.23],[7.31,4.23],[7.6,4.19],[4.46,4.13],[5.24,4.16],[8.5,4.14],[10.13,4.11],[5.94,4.11],[6.23,4.1],[5.79,4.06],[9.97,4.04],[5.63,3.98],[5.87,4.01],[7.97,3.98],[8.35,3.98],[8.47,3.94],[4.99,3.93],[6.15,3.91],[6.93,3.9],[5.56,3.88],[6.27,3.84],[6.59,3.86],[7.11,3.83],[8.29,3.83],[4.36,3.8],[6.85,3.78],[5.75,3.73],[6.51,3.74],[5.52,3.75],[5.48,3.68],[6.35,3.63],[8.6,3.65],[6.63,3.63],[5.32,3.59],[5.59,3.57],[6.15,3.57],[6.89,3.57],[6.99,3.57],[5.2,3.51],[5.99,3.54],[7.52,3.51],[8.4,3.52],[4.49,3.47],[5.67,3.45],[6.51,3.46],[7.03,3.45],[6.39,3.42],[6.85,3.4],[7.87,3.37],[5.95,3.37],[4.96,3.34],[4.34,3.33],[5.28,3.34],[7.22,3.33],[6.23,3.34],[8.28,3.34],[9.51,3.32],[9,3.3],[5.56,3.3],[11.38,3.29],[7.35,3.28],[7.87,3.28],[8.15,3.29],[5.83,3.27],[4.26,3.2],[8.47,3.23],[7.59,3.22],[7.71,3.22],[8.55,3.22],[5.52,3.19],[6.15,3.19],[7.19,3.19],[6.71,3.17],[5.67,3.14],[4.69,3.12],[5.06,3.14],[9.01,3.1],[5.99,3.11],[6.95,3.09],[7.43,3.14],[7.67,3.06],[7.83,3.03],[6.55,3.06],[5.41,3.08],[5.06,3.04],[10.68,3],[7.11,3.01],[4.76,3.01],[5.83,3.01],[6.71,2.99],[6.31,2.96],[5.32,2.96],[4.8,2.94],[7.97,2.91],[5.63,2.94],[7.39,2.93],[5,2.92],[5.12,2.91],[9.29,2.87],[9.42,2.85],[6.03,2.88],[6.46,2.84],[5.52,2.83],[8.15,2.81],[9.09,2.79],[9.22,2.84],[5.83,2.81],[7.01,2.78],[7.09,2.76],[7.84,2.76],[6.63,2.76],[8.23,2.74],[7.89,2.72],[10.83,2.72],[8.35,2.72],[4.96,2.7],[5.2,2.7],[6.15,2.73],[6.31,2.68],[7.23,2.67],[7.35,2.65],[6.87,2.61],[7.51,2.63],[8.4,2.61],[9.33,2.59],[9.01,2.58],[9.86,2.58],[5.44,2.6],[7.79,2.55],[11.46,2.55],[5.83,2.55],[6.43,2.55],[5.28,2.52],[7.97,2.5],[7.19,2.45],[6.11,2.4],[5.32,2.41],[4.11,2.45],[9.89,2.44],[5.67,2.4],[6.46,2.37],[7.11,2.35],[11.5,2.33],[4.88,2.29],[5.12,2.32],[6.07,2.32],[8.61,2.32],[8.85,2.3],[7.33,2.31],[7.51,2.32],[8.36,2.29],[9.09,2.27],[10.3,2.27],[5.52,2.27],[4.64,2.22],[4.84,2.24],[5.83,2.24],[7.99,2.22],[6.43,2.19],[12.25,2.17],[9.18,2.16],[4.72,2.17],[5.28,2.14],[6.59,2.17],[7.76,2.14],[8.12,2.14],[5.59,2.12],[5.99,2.14],[7.21,2.12],[8.69,2.09],[9.82,2.1],[4.61,2.06],[5.12,2.06],[8.25,2.06],[6.23,2.04],[7.31,2.02],[7.51,2.04],[6.83,2.02],[7.09,2],[5.08,1.95],[7.71,1.96],[7.92,2.02],[8.31,1.94],[8.9,1.95],[5.52,1.95],[5.83,1.94],[10.38,1.92],[6.43,1.91],[8.86,1.88],[9.22,1.86],[9.3,1.87],[6.95,1.88],[7.95,1.87],[8.55,1.84],[6.07,1.86],[4.94,1.81],[5.45,1.8],[6.71,1.84],[7.35,1.85],[7.09,1.82],[7.79,1.83],[7.99,1.81],[7.67,1.77],[8.12,1.76],[7.35,1.76],[5.87,1.76],[5.59,1.72],[9.66,1.7],[8.68,1.7],[10.56,1.7],[8.12,1.7],[12.27,1.67],[6.83,1.71],[6.23,1.71],[6.39,1.65],[5.59,1.63],[5.09,1.58],[5.78,1.58],[6.87,1.6],[6.11,1.6],[7.03,1.58],[4.65,1.54],[9.1,1.55],[6.46,1.55],[6.03,1.53],[7.17,1.49],[6.87,1.49],[6.59,1.5],[5.52,1.47],[7.75,1.45],[7.95,1.45],[9.55,1.46],[6.63,1.45],[6.13,1.42],[6.35,1.39],[7.41,1.38],[8.35,1.39],[5.53,1.41],[7.19,1.31],[5.83,1.34],[5.99,1.32],[5.34,1.3],[5.59,1.27],[6.23,1.27],[11.22,1.27],[4.81,1.24],[5.32,1.22],[7.31,1.27],[6.47,1.19],[7.11,1.19],[7.63,1.2],[6.03,1.2],[6.39,1.13],[9.04,1.14],[9.3,1.1],[8.55,1.13],[5.91,1.07],[11.68,1.05],[6.35,1.02],[8.31,1.02],[8,1],[5.56,1],[5.67,.94],[5.44,.91],[6.27,.94],[6.34,.89],[8.39,.9],[6.02,.89],[6.77,.87],[7.23,.88],[7.57,.86],[5.63,.84],[6.59,.78],[6.19,.77],[5.87,.75],[5.98,.73],[8.14,.75],[6.74,.59],[5.71,.57],[7.75,.58],[6.54,.5],[5.24,.47],[6.97,.49],[7.09,.43],[7.9,.35],[5.95,.1]];
const hCluster: P[] = [[5.55,3.85],[5.73,3.89],[5.91,3.89],[6.12,3.91],[5.52,3.72],[5.7,3.72],[5.82,3.85],[5.46,3.66],[5.61,3.56],[5.29,3.56],[5.97,3.54],[6.15,3.56],[6.32,3.62],[6.53,3.74],[6.59,3.62],[6.86,3.56],[7,3.58],[5.64,3.43],[5.82,3.43],[6.03,3.41],[6.17,3.37],[6.53,3.47],[6.71,3.45],[6.89,3.41],[5.31,3.33],[5.52,3.31],[5.73,3.26],[5.91,3.31],[6.12,3.26],[6.35,3.35],[6.56,3.29],[5.52,3.18],[5.76,3.14],[5.97,3.18],[6.44,3.18],[6.65,3.18],[6.89,3.08],[5.46,3.08],[5.67,3.01],[5.91,3.03],[6.32,3.01],[6.53,3.08],[6.77,3.01],[6.98,2.95],[5.55,2.87],[5.76,2.87],[5.97,2.87],[6.26,2.89],[6.47,2.87],[6.71,2.91],[6.12,2.76],[6.38,2.72],[6.59,2.78],[5.49,2.78],[5.7,2.74],[5.91,2.76],[5.94,2.43],[6.12,2.36],[5.29,2.41],[5.14,2.45],[5.52,2.3],[5.73,2.26],[5.94,2.28],[6.35,2.36],[6.5,2.3],[6.8,2.34],[7,2.32],[4.93,2.26],[5.17,2.22],[5.52,2.18],[5.76,2.13],[6,2.18],[6.26,2.18],[6.56,2.16],[6.8,2.18],[4.84,2.2],[5.32,2.07],[5.08,2.07],[5.61,2.03],[5.85,2.03],[6.09,2.09],[6.29,2.05],[6.59,2.01],[6.77,2.01],[5.02,1.95],[5.26,1.95],[5.67,1.9],[5.91,1.88],[6.15,1.92],[6.41,1.92],[6.65,1.88],[6.89,1.9],[7.06,1.82],[5.52,1.76],[5.73,1.8],[6,1.76],[6.17,1.8],[6.53,1.78],[6.8,1.74],[5.43,1.8],[5.61,1.63],[5.79,1.61],[5.97,1.65],[6.17,1.67],[6.47,1.55],[6.65,1.51],[6.83,1.63],[6.98,1.59],[6.03,1.51],[6.15,1.44],[5.52,1.46],[5.88,1.34],[6.09,1.3],[6.32,1.38],[6,1.19],[6.44,1.19],[6.38,1.13],[6.17,1.07],[6.32,.96]];

const aCurveTopX = [0,.02,.041,.062,.084,.101,.122,.147,.173,.194,.228,.258,.279,.304,.33,.355,.385,.434];
const aCurveTopD = [.19,.24,.33,.6,.79,.86,.88,.93,.99,.93,.71,.57,.45,.21,.06,.02,.01,.03];
const aCurveSideY = [7.02,5.75,3.87,3.46,3.06,2.59,2.18,1.78,1.51,1.24,.97,.74,.54,.37,.08];
const aCurveSideD = [.03,.02,.015,.06,.17,.18,.22,.35,.47,.74,.95,.99,.88,.64,.31];
const bCurveTopX = [0,.0064,.0146,.025,.037,.054,.074,.099,.111,.136,.165,.183,.198,.216];
const bCurveTopD = [.94,1,.94,.75,.64,.58,.48,.45,.38,.24,.18,.09,.06,.04];
const bCurveSideY = [7.04,5.68,3.97,3.65,3.02,2.43,2.1,1.77,1.5,1.23,.97,.71,.48,.31,.07];
const bCurveSideD = [.02,.015,.015,.06,.17,.17,.22,.35,.46,.75,.94,.99,.84,.61,.32];
const cCurveTopX = [0,.035,.07,.105,.132,.167,.223,.286,.348,.425,.481,.55,.62,.723];
const cCurveTopD = [.29,.57,.85,.98,1,.95,.76,.58,.44,.36,.24,.13,.065,.03];
const cCurveSideY = [7.05,5.5,3.77,3.57,3,2.44,2.18,1.84,1.58,1.31,1.05,.75,.52,.32,.07];
const cCurveSideD = [.025,.01,.01,.04,.14,.17,.23,.36,.45,.67,.9,.99,.88,.62,.32];
const dCurveTopX = [0,.0029,.0066,.012,.0185,.026,.039,.0476,.0583,.067,.0777,.0928,.11];
const dCurveTopD = [.98,1,.85,.59,.41,.31,.28,.2,.08,.03,.04,.03,.015];
const dCurveSideY = [7.04,3.8,3.48,3.01,2.48,2.21,1.88,1.55,1.22,.95,.74,.52,.36,.07];
const dCurveSideD = [.025,.025,.06,.17,.18,.23,.32,.49,.76,.95,1,.88,.66,.31];
const eCurveTopX = [3.38,3.68,4.03,4.38,4.66,5.01,5.29,5.64,5.99,6.48,7.04,7.6,8.15,8.72,9.7,10.57];
const eCurveTopD = [.03,.16,.54,.92,1,.9,.71,.45,.29,.22,.15,.06,.04,.015,.005,.01];
const eCurveSideY = [5.36,4.82,4.52,4.27,3.92,3.62,3.42,3.22,2.92,2.66,2.41,2.16,1.9,1.71,1.45,1.15,.75,.4,.1];
const eCurveSideD = [.015,.02,.07,.17,.36,.52,.71,.84,.88,.93,1,.98,.83,.67,.48,.29,.12,.05,.02];
const fCurveTopX = [4.51,4.71,4.96,5.26,5.51,5.85,6.1,6.45,6.7,7,7.34,7.74,7.99,8.38,8.88,9.23,9.6];
const fCurveTopD = [.06,.16,.4,.73,.87,1,.9,.56,.44,.4,.2,.11,.08,.06,.01,.03,.015];
const fCurveSideY = [5.36,4.87,4.47,4.17,3.86,3.56,3.31,3.05,2.75,2.34,2.09,1.84,1.59,1.33,.98,.58,.1];
const fCurveSideD = [.01,.025,.08,.2,.37,.56,.78,.88,.95,1,.95,.76,.54,.37,.2,.05,.015];
const gCurveTopX = [4.5,4.59,4.73,4.84,4.94,5.05,5.13,5.22,5.34,5.48,5.62,5.74,5.89,6.08,6.28];
const gCurveTopD = [.025,.05,.24,.55,.75,.89,.995,.985,.67,.36,.14,.06,.02,.01,.025];
const gCurveSideY = [5.36,4.78,4.37,4.07,3.75,3.5,3.29,2.98,2.73,2.37,2.11,1.91,1.65,1.35,.99,.58,.11];
const gCurveSideD = [.01,.035,.1,.24,.41,.61,.8,.88,.93,1,.93,.76,.56,.34,.17,.05,.015];
const hCurveTopX = [4.1,4.48,4.88,5.28,5.59,5.83,6.23,6.71,7.19,7.67,8.23,8.78,9.42,10.06,10.86,12.27];
const hCurveTopD = [.035,.1,.26,.65,.96,1,.89,.67,.43,.31,.24,.14,.1,.04,.025,.02];
const hCurveSideY = [5.36,4.78,4.42,4.07,3.75,3.5,3.29,2.98,2.73,2.37,2.11,1.91,1.65,1.35,.99,.58,.11];
const hCurveSideD = [.01,.035,.08,.25,.42,.61,.81,.88,.93,1,.93,.73,.57,.35,.18,.06,.015];

// x, lower, upper of the confidence band
const aBand = [[0,1.36,2.03],[.1,1.28,1.73],[.18,1.14,1.46],[.25,.93,1.38],[.3,.74,1.36],[.435,.27,1.36]];
const bBand = [[0,1.34,1.74],[.08,1.13,1.44],[.13,.95,1.35],[.216,.345,1.34]];
const cBand = [[0,.75,1.31],[.2,1.17,1.52],[.35,1.4,1.78],[.5,1.5,2.15],[.723,1.55,2.63]];
const dBand = [[0,1.1,1.45],[.03,1.2,1.62],[.06,1.28,1.95],[.11,1.23,2.59]];
const eBand = [[3.38,2.22,2.5],[5.5,2.44,2.63],[7,2.57,2.9],[10.57,2.6,3.39]];
const fBand = [[4.51,2.07,2.38],[6,2.42,2.62],[7.5,2.72,3.02],[9.6,2.86,3.5]];
const gBand = [[4.5,2.53,2.96],[5.2,2.38,2.58],[5.6,2.2,2.47],[6.28,1.78,2.47]];
const hBand = [[4.1,2.51,2.82],[6.5,2.41,2.6],[8.5,2.2,2.5],[12.27,1.87,2.51]];

const aFit = [[0,1.71],[.435,.8]];
const bFit = [[0,1.54],[.216,.83]];
const cFit = [[0,1.03],[.723,2.08]];
const dFit = [[0,1.29],[.11,1.9]];
const eFit = [[3.38,2.37],[10.57,2.99]];
const fFit = [[4.51,2.22],[9.6,3.18]];
const gFit = [[4.5,2.74],[6.28,2.14]];
const hFit = [[4.1,2.66],[12.27,2.19]];

const upperYMajor = [0,2,4,6];
const upperYMinor = [1,3,5,7];
const lowerYMajor = [0,2,4];
const lowerYMinor = [1,3,5];

const TOFU = "☒";

const panels = [
  { letter:"A", title:"T cells CD4 memory resting", pts:aPoints, band:aBand, fit:aFit, topX:aCurveTopX, topD:aCurveTopD, sideY:aCurveSideY, sideD:aCurveSideD,
    stat:["R"," = −0.18 , ","p"," = 0.007"], xLabels:["0.0","0.1","0.2","0.3","0.4"], xMinor:[.05,.15,.25,.35,.45], yMajor:upperYMajor, yMinor:upperYMinor,
    box:[86.6,102,589.5,549.6], xCal:[0,.4,109,532], yCal:[0,6,535.8,182.7], top:[96.9,13.8], side:[595,685], lx:2, ly:48, sx:109, sy:136.4, tx:365, ty:611, tf:35, rx:59, ry:297 },
  { letter:"B", title:"T cells CD4 memory activated", pts:bPoints, band:bBand, fit:bFit, topX:bCurveTopX, topD:bCurveTopD, sideY:bCurveSideY, sideD:bCurveSideD,
    stat:["R"," = −0.18 , ","p"," = 0.0059"], xLabels:["0.00","0.05","0.10","0.15","0.20"], xMinor:[.025,.075,.125,.175,.225], yMajor:upperYMajor, yMinor:upperYMinor,
    box:[774.3,95.7,1291.2,552], xCal:[0,.2,797.2,1233.3], yCal:[0,6,536.6,178.7], top:[90.9,7], side:[1296.5,1389], lx:701, ly:43.5, sx:797.7, sy:130.5, tx:1046.7, ty:605, tf:35, rx:747.4, ry:300.5 },
  { letter:"C", title:"Macrophages M0", pts:cPoints, band:cBand, fit:cFit, topX:cCurveTopX, topD:cCurveTopD, sideY:cCurveSideY, sideD:cCurveSideD,
    stat:["R"," = 0.24 , ","p"," = 0.00025"], xLabels:["0.0","0.2","0.4","0.6"], xMinor:[.1,.3,.5,.7], yMajor:upperYMajor, yMinor:upperYMinor,
    box:[71.8,710,581.9,1166.3], xCal:[0,.6,94.2,480.5], yCal:[0,6,1150.9,793], top:[705.7,621], side:[587.7,679], lx:3, ly:683, sx:94.5, sy:745.6, tx:339.6, ty:1221, tf:34, rx:45, ry:910.5 },
  { letter:"D", title:"NK cells resting", pts:dPoints, band:dBand, fit:dFit, topX:dCurveTopX, topD:dCurveTopD, sideY:dCurveSideY, sideD:dCurveSideD,
    stat:["R"," = 0.14 , ","p"," = 0.034"], xLabels:["0.00","0.03","0.06","0.09"], xMinor:[.015,.045,.075,.105], yMajor:upperYMajor, yMinor:upperYMinor,
    box:[774.3,712,1277.7,1168.7], xCal:[0,.09,796.8,1171.8], yCal:[0,6,1153.3,795], top:[707.7,623], side:[1283.5,1375], lx:701, ly:683, sx:796.8, sy:747.6, tx:1034.5, ty:1221, tf:35, rx:747.4, ry:911 },
  { letter:"E", title:"CD274", pts:[...ePoints, ...eCluster], band:eBand, fit:eFit, topX:eCurveTopX, topD:eCurveTopD, sideY:eCurveSideY, sideD:eCurveSideD,
    stat:["R"," = 0.091 , ","p"," = 0.032"], xLabels:["5","7","9"], xMinor:[4,6,8,10], yMajor:lowerYMajor, yMinor:lowerYMinor,
    box:[66.4,1325.3,571.6,1785.7], xCal:[5,9,192,448.6], yCal:[0,4,1774,1454.6], top:[1320,1235], side:[576.5,669.5], lx:4, ly:1278, sx:89, sy:1359.4, tx:326, ty:1835.5, tf:36, rx:38, ry:1528 },
  { letter:"F", title:"HAVCR2", pts:[...fPoints, ...fCluster], band:fBand, fit:fFit, topX:fCurveTopX, topD:fCurveTopD, sideY:fCurveSideY, sideD:fCurveSideD,
    stat:["R"," = 0.16 , ","p"," = 0.00013"], xLabels:["5","6","7","8","9"], xMinor:[4.5,5.5,6.5,7.5,8.5,9.5], yMajor:lowerYMajor, yMinor:lowerYMinor,
    box:[779.7,1320.4,1283.5,1780], xCal:[5,9,846.6,1207.7], yCal:[0,4,1768,1449.8], top:[1315.6,1231], side:[1289,1381], lx:701, ly:1278, sx:802, sy:1355.4, tx:1031, ty:1828.7, tf:36, rx:752, ry:1522.6 },
  { letter:"G", title:"CTLA4", pts:[...gPoints, ...gCluster], band:gBand, fit:gFit, topX:gCurveTopX, topD:gCurveTopD, sideY:gCurveSideY, sideD:gCurveSideD,
    stat:["R"," = "+TOFU+"0.084 , ","p"," = 0.048"], xLabels:["4.5","5.0","5.5","6.0"], xMinor:[4.75,5.25,5.75,6.25], yMajor:lowerYMajor, yMinor:lowerYMinor,
    box:[84.8,1969.8,588,2429], xCal:[4.5,6,106.8,494.4], yCal:[0,4,2416.7,2098], top:[1964.5,1879.6], side:[594.4,683.5], lx:3, ly:1921.6, sx:107.7, sy:2003, tx:349, ty:2476.5, tf:36, rx:58, ry:2170.6 },
  { letter:"H", title:"IDO1", pts:[...hPoints, ...hCluster], band:hBand, fit:hFit, topX:hCurveTopX, topD:hCurveTopD, sideY:hCurveSideY, sideD:hCurveSideD,
    stat:["R"," = "+TOFU+"0.1 , ","p"," = 0.017"], xLabels:["4","6","8","10","12"], xMinor:[5,7,9,11], yMajor:lowerYMajor, yMinor:lowerYMinor,
    box:[781,1969.8,1284.9,2429], xCal:[4,12,797.7,1247.6], yCal:[0,4,2416.7,2098], top:[1964.5,1879.6], side:[1290.3,1380.5], lx:701, ly:1921.6, sx:803.5, sy:2003, tx:1041, ty:2476.5, tf:36, rx:752.8, ry:2170.6 },
];

const FONT = "'Liberation Sans', Arial, Helvetica, sans-serif";

function Panel({ p }: { p: (typeof panels)[number] }) {
  const [L, T, R, B] = p.box;
  const x = d3.scaleLinear().domain([p.xCal[0], p.xCal[1]]).range([p.xCal[2], p.xCal[3]]);
  const y = d3.scaleLinear().domain([p.yCal[0], p.yCal[1]]).range([p.yCal[2], p.yCal[3]]);
  const dTop = d3.scaleLinear().domain([0, 1]).range(p.top);
  const dSide = d3.scaleLinear().domain([0, 1]).range(p.side);
  const topRows = p.topX.map((v, i) => [v, p.topD[i]]);
  const sideRows = p.sideY.map((v, i) => [v, p.sideD[i]]);
  const smooth = d3.curveCatmullRom.alpha(0.5);

  const topArea = d3.area<number[]>().x(d => x(d[0])).y0(dTop(0)).y1(d => dTop(d[1])).curve(smooth);
  const topLine = d3.line<number[]>().x(d => x(d[0])).y(d => dTop(d[1])).curve(smooth);
  const sideArea = d3.area<number[]>().y(d => y(d[0])).x0(dSide(0)).x1(d => dSide(d[1])).curve(smooth);
  const sideLine = d3.line<number[]>().y(d => y(d[0])).x(d => dSide(d[1])).curve(smooth);
  const bandArea = d3.area<number[]>().x(d => x(d[0])).y0(d => y(d[1])).y1(d => y(d[2])).curve(d3.curveMonotoneX);
  const fitLine = d3.line<number[]>().x(d => x(d[0])).y(d => y(d[1]));

  const xMajor = p.xLabels.map(Number);
  const inX = (v: number) => x(v) > L && x(v) < R;
  const inY = (v: number) => y(v) > T && y(v) < B;
  const statParts = p.stat[1].split(TOFU);

  return (
    <g>
      <rect x={L} y={T} width={R - L} height={B - T} fill="#fff" />
      {p.xMinor.filter(inX).map(v => <line key={"xm" + v} x1={x(v)} x2={x(v)} y1={T} y2={B} stroke="#eeeeee" strokeWidth={2.3} />)}
      {p.yMinor.filter(inY).map(v => <line key={"ym" + v} y1={y(v)} y2={y(v)} x1={L} x2={R} stroke="#eeeeee" strokeWidth={2} />)}
      {xMajor.map(v => <line key={"xM" + v} x1={x(v)} x2={x(v)} y1={T} y2={B} stroke="#ebebeb" strokeWidth={4.4} />)}
      {p.yMajor.map(v => <line key={"yM" + v} y1={y(v)} y2={y(v)} x1={L} x2={R} stroke="#ebebeb" strokeWidth={4} />)}

      {p.pts.map((d, i) => <circle key={i} cx={x(d[0])} cy={y(d[1])} r={5} fill="#000" />)}

      <path d={bandArea(p.band) || ""} fill="#999999" fillOpacity={0.4} />
      <path d={fitLine(p.fit) || ""} fill="none" stroke="#3366FF" strokeWidth={7.6} />

      <rect x={L} y={T} width={R - L} height={B - T} fill="none" stroke="#333333" strokeWidth={2.4} />

      {xMajor.map((v, i) => (
        <g key={"xt" + v}>
          <line x1={x(v)} x2={x(v)} y1={B} y2={B + 4} stroke="#333" strokeWidth={1.6} />
          <text x={x(v)} y={B + 24} textAnchor="middle" fontSize={16.5} fill="#6b6b6b" fontFamily={FONT}>{p.xLabels[i]}</text>
        </g>
      ))}
      {p.yMajor.map(v => (
        <g key={"yt" + v}>
          <line x1={L - 4} x2={L} y1={y(v)} y2={y(v)} stroke="#333" strokeWidth={1.6} />
          <text x={L - 8} y={y(v) + 6} textAnchor="end" fontSize={16.5} fill="#6b6b6b" fontFamily={FONT}>{v}</text>
        </g>
      ))}

      <path d={topArea(topRows) || ""} fill="#FFA500" />
      <path d={topLine(topRows) || ""} fill="none" stroke="#000" strokeWidth={3.6} />
      <path d={sideArea(sideRows) || ""} fill="#0000FF" />
      <path d={sideLine(sideRows) || ""} fill="none" stroke="#000" strokeWidth={3.6} />

      <text x={p.sx} y={p.sy + 7} fontSize={19.6} fill="#111" fontFamily={FONT}>
        <tspan fontStyle="italic">{p.stat[0]}</tspan>
        {statParts.length > 1 ? (
          <>
            <tspan>{statParts[0]}</tspan>
            <tspan fontFamily="'DejaVu Sans'" fontSize={25} fill="#444">{TOFU}</tspan>
            <tspan dx={-5}>{statParts[1]}</tspan>
          </>
        ) : (
          <tspan>{p.stat[1]}</tspan>
        )}
        <tspan fontStyle="italic">{p.stat[2]}</tspan>
        <tspan>{p.stat[3]}</tspan>
      </text>

      <text x={p.tx} y={p.ty} textAnchor="middle" fontSize={p.tf} fill="#000" fontFamily={FONT}>{p.title}</text>
      <text transform={`translate(${p.rx},${p.ry}) rotate(-90)`} textAnchor="middle" fontSize={33} fill="#000" fontFamily={FONT}>riskScore</text>
      <text x={p.lx} y={p.ly} fontSize={57} fontWeight="bold" fill="#000" fontFamily={FONT}>{p.letter}</text>
    </g>
  );
}

export default function App() {
  return (
    <svg width={1390} height={2480} viewBox="0 0 1390 2480" style={{ position: "absolute", left: 0, top: 0, display: "block", background: "#fff" }}>
      <defs>
        <filter id="soft" x="0" y="0" width="100%" height="100%" filterUnits="objectBoundingBox">
          <feGaussianBlur stdDeviation="0.6" />
        </filter>
      </defs>
      <g filter="url(#soft)">
        <rect x={0} y={0} width={1390} height={2480} fill="#fff" />
        {panels.map(p => <Panel key={p.letter} p={p} />)}
      </g>
    </svg>
  );
}
